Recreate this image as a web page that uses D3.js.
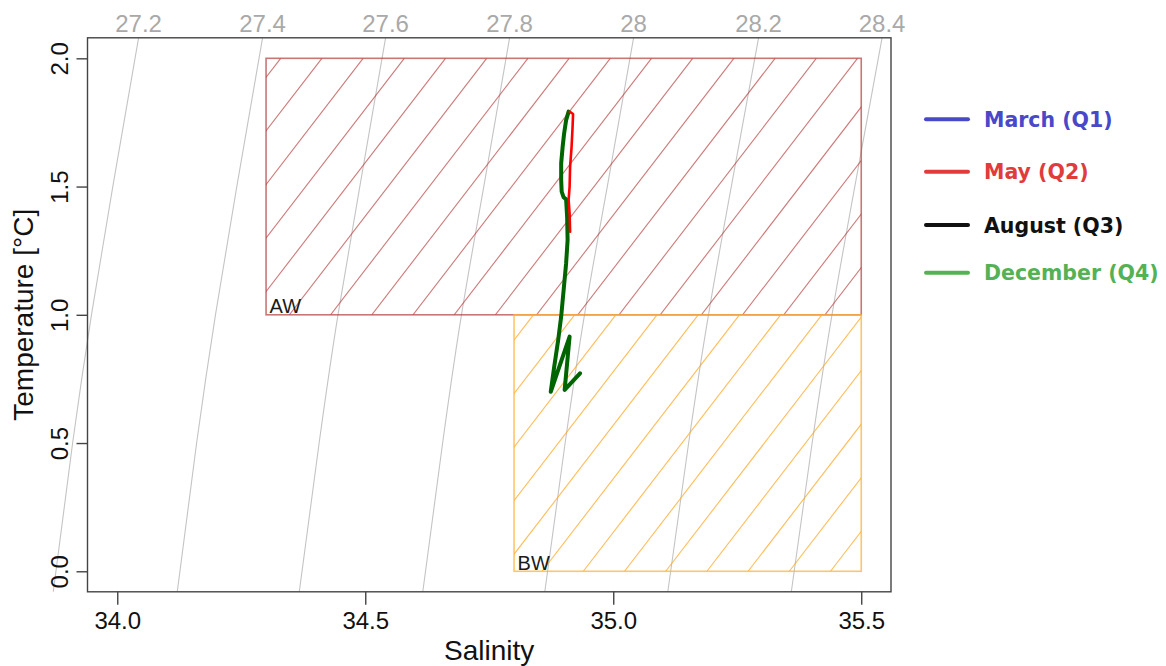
<!DOCTYPE html>
<html>
<head>
<meta charset="utf-8">
<script src="https://cdn.jsdelivr.net/npm/d3@7"></script>
<style>
  html, body { margin: 0; padding: 0; background: #fff; }
  svg { display: block; }
  .axis text { font-family: "Liberation Sans", Arial, sans-serif; fill: #111; }
</style>
</head>
<body>
<svg id="chart" width="1166" height="666"></svg>
<script>
// Isopycnal (sigma-theta) levels and their salinity at each temperature level
const isoLevels = [27.2, 27.4, 27.6, 27.8, 28.0, 28.2, 28.4];
const isoTemps = [2.08, 1.5, 1.0, 0.5, -0.08];
const isoSalinity = [
  [34.043, 33.991, 33.948, 33.910, 33.871],
  [34.293, 34.241, 34.198, 34.160, 34.121],
  [34.541, 34.489, 34.445, 34.407, 34.367],
  [34.791, 34.739, 34.694, 34.656, 34.616],
  [35.041, 34.988, 34.942, 34.903, 34.862],
  [35.293, 35.238, 35.192, 35.152, 35.110],
  [35.542, 35.487, 35.441, 35.401, 35.359]
];

// Water mass boxes: Atlantic Water and bottom water
const waterMasses = ["AW", "BW"];
const wmSalinity = [[34.3, 35.5], [34.8, 35.5]];
const wmTemperature = [[1.0, 2.0], [0.0, 1.0]];

// Profiles (salinity, temperature)
const maySalinity = [34.912, 34.919, 34.918, 34.916, 34.913, 34.912, 34.910, 34.912, 34.913];
const mayTemperature = [1.792, 1.783, 1.733, 1.655, 1.577, 1.499, 1.448, 1.396, 1.324];
const decSalinity = [34.910, 34.905, 34.901, 34.898, 34.895, 34.895, 34.896, 34.900, 34.905, 34.907,
                     34.908, 34.905, 34.900, 34.895, 34.889, 34.881, 34.874, 34.912, 34.902, 34.933];
const decTemperature = [1.792, 1.759, 1.708, 1.655, 1.591, 1.526, 1.480, 1.458, 1.450, 1.382,
                        1.292, 1.201, 1.097, 0.993, 0.902, 0.798, 0.700, 0.915, 0.707, 0.772];

// Axis ticks
const salinityTicks = [34.0, 34.5, 35.0, 35.5];
const temperatureTicks = [0.0, 0.5, 1.0, 1.5, 2.0];

// Legend entries
const legendLabels = ["March (Q1)", "May (Q2)", "August (Q3)", "December (Q4)"];
const legendColors = ["#4848c8", "#e03c3c", "#111111", "#55b155"];

const svg = d3.select("#chart");
const plot = { left: 87.5, right: 891, top: 37.8, bottom: 591.8 };

const x = d3.scaleLinear().domain([33.94, 35.56]).range([plot.left, plot.right]);
const y = d3.scaleLinear().domain([-0.08, 2.08]).range([plot.bottom, plot.top]);

// Isopycnals (drawn without clipping so they run past the frame on the left)
const isoLine = d3.line().x(d => x(d[0])).y(d => y(d[1])).curve(d3.curveNatural);
const iso = svg.append("g");
isoSalinity.forEach((row, i) => {
  const pts = row.map((s, j) => [s, isoTemps[j]]);
  iso.append("path").attr("d", isoLine(pts))
    .attr("fill", "none").attr("stroke", "#c4c4c4").attr("stroke-width", 1.1);
  iso.append("text")
    .attr("x", x(row[0])).attr("y", 31.5)
    .attr("text-anchor", "middle")
    .attr("font-family", "Liberation Sans, Arial, sans-serif")
    .attr("font-size", 24)
    .attr("fill", "#a9a9a9")
    .text(String(isoLevels[i]));
});

// Hatched water mass boxes
const hatchStyle = [
  { stroke: "#b23c3c", hatch: "#b84040", opacity: 0.7, anchor: [280.7, 58.3] },
  { stroke: "#ffb13b", hatch: "#ffa520", opacity: 0.75, anchor: [583.3, 571.3] }
];
const slope = 1.3;      // rise over run of the hatching, in pixels
const spacing = 41.2;   // horizontal gap between hatch lines

const defs = svg.append("defs");
waterMasses.forEach((name, i) => {
  const x0 = x(wmSalinity[i][0]), x1 = x(wmSalinity[i][1]);
  const y0 = y(wmTemperature[i][1]), y1 = y(wmTemperature[i][0]);
  const st = hatchStyle[i];
  defs.append("clipPath").attr("id", "clip-" + name)
    .append("rect").attr("x", x0).attr("y", y0).attr("width", x1 - x0).attr("height", y1 - y0);

  const g = svg.append("g");
  const hg = g.append("g").attr("clip-path", `url(#clip-${name})`);
  // x where each hatch line crosses the box bottom, stepping by spacing
  const [ax, ay] = st.anchor;
  const baseAtBottom = ax - (y1 - ay) / slope;
  const h = y1 - y0;
  const kStart = Math.floor((x0 - h / slope - baseAtBottom) / spacing) - 1;
  const kEnd = Math.ceil((x1 - baseAtBottom) / spacing) + 1;
  for (let k = kStart; k <= kEnd; k++) {
    const bx = baseAtBottom + k * spacing;
    hg.append("line")
      .attr("x1", bx).attr("y1", y1)
      .attr("x2", bx + h / slope).attr("y2", y0)
      .attr("stroke", st.hatch).attr("stroke-opacity", st.opacity).attr("stroke-width", 1.1);
  }
  g.append("rect")
    .attr("x", x0).attr("y", y0).attr("width", x1 - x0).attr("height", y1 - y0)
    .attr("fill", "none").attr("stroke", st.stroke).attr("stroke-opacity", st.opacity)
    .attr("stroke-width", 1.6);
  g.append("text")
    .attr("x", x0 + 3.5).attr("y", y1 - 1.5)
    .attr("font-family", "Liberation Sans, Arial, sans-serif")
    .attr("font-size", 20).attr("fill", "#1a1a1a")
    .text(name);
});

// Profiles
const profLine = d3.line().x(d => x(d[0])).y(d => y(d[1])).curve(d3.curveLinear);
svg.append("path")
  .attr("d", profLine(decSalinity.map((s, i) => [s, decTemperature[i]])))
  .attr("fill", "none").attr("stroke", "#006400").attr("stroke-width", 4)
  .attr("stroke-linejoin", "round").attr("stroke-linecap", "round");
svg.append("path")
  .attr("d", profLine(maySalinity.map((s, i) => [s, mayTemperature[i]])))
  .attr("fill", "none").attr("stroke", "#ff0000").attr("stroke-width", 2.6)
  .attr("stroke-linejoin", "round").attr("stroke-linecap", "round");

// Frame
svg.append("rect")
  .attr("x", plot.left).attr("y", plot.top)
  .attr("width", plot.right - plot.left).attr("height", plot.bottom - plot.top)
  .attr("fill", "none").attr("stroke", "#444").attr("stroke-width", 1.4);

// Axes
const xAxis = svg.append("g").attr("class", "axis")
  .attr("transform", `translate(0,${plot.bottom})`)
  .call(d3.axisBottom(x).tickValues(salinityTicks).tickFormat(d3.format(".1f")).tickSize(13));
xAxis.select(".domain").remove();
xAxis.selectAll("line").attr("stroke", "#444").attr("stroke-width", 1.4);
xAxis.selectAll("text").attr("y", 37.5).attr("dy", null).attr("font-size", 24);

const yAxis = svg.append("g").attr("class", "axis")
  .attr("transform", `translate(${plot.left},0)`)
  .call(d3.axisLeft(y).tickValues(temperatureTicks).tickFormat(d3.format(".1f")).tickSize(11));
yAxis.select(".domain").remove();
yAxis.selectAll("line").attr("stroke", "#444").attr("stroke-width", 1.4);
yAxis.selectAll("text")
  .attr("x", null).attr("dy", null)
  .attr("transform", "translate(-19.2,0) rotate(-90)")
  .attr("text-anchor", "middle")
  .attr("font-size", 24);

// Axis titles
svg.append("text")
  .attr("x", (plot.left + plot.right) / 2).attr("y", 660)
  .attr("text-anchor", "middle")
  .attr("font-family", "Liberation Sans, Arial, sans-serif")
  .attr("font-size", 28).attr("fill", "#111")
  .text("Salinity");
svg.append("text")
  .attr("transform", `translate(33,${(plot.top + plot.bottom) / 2}) rotate(-90)`)
  .attr("text-anchor", "middle")
  .attr("font-family", "Liberation Sans, Arial, sans-serif")
  .attr("font-size", 28).attr("fill", "#111")
  .text("Temperature [°C]");

// Legend
const legendY = [119.3, 171.7, 225, 272.7];
const legend = svg.append("g");
legendLabels.forEach((label, i) => {
  legend.append("line")
    .attr("x1", 926).attr("x2", 968).attr("y1", legendY[i]).attr("y2", legendY[i])
    .attr("stroke", legendColors[i]).attr("stroke-width", 4).attr("stroke-linecap", "round");
  legend.append("text")
    .attr("x", 984).attr("y", legendY[i] + 7.5)
    .attr("font-family", "DejaVu Sans, Verdana, sans-serif")
    .attr("font-weight", "bold").attr("font-size", 20.5)
    .attr("fill", legendColors[i])
    .text(label);
});
</script>
</body>
</html>
